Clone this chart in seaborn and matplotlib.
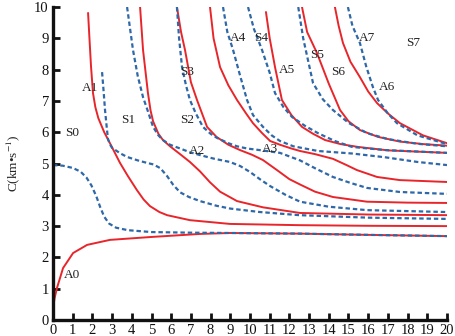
import matplotlib
matplotlib.use("Agg")
import matplotlib.pyplot as plt
import seaborn as sns

# Lamb wave dispersion curves: phase velocity C (km/s) vs fd
# antisymmetric modes (red, solid)
A0_x = [0.0, 0.08, 0.2, 0.51, 1.02, 1.73, 2.89, 4.92, 7.46, 8.98, 12.5, 16.0, 20.0]
A0_c = [0.35, 0.7, 1.02, 1.66, 2.14, 2.40, 2.56, 2.65, 2.75, 2.78, 2.76, 2.72, 2.68]
A1_x = [1.78, 1.85, 1.93, 2.03, 2.15, 2.3, 2.6, 2.89, 3.4, 3.8, 4.26, 4.6, 4.92, 5.4, 5.79, 6.95, 8.98, 12.5, 16.0, 20.0]
A1_c = [9.81, 9.0, 8.1, 7.25, 6.8, 6.45, 6.0, 5.65, 5.02, 4.6, 4.15, 3.85, 3.64, 3.45, 3.35, 3.19, 3.07, 3.03, 3.01, 3.0]
A2_x = [4.42, 4.57, 4.82, 4.95, 5.08, 5.35, 5.58, 5.94, 6.45, 6.95, 7.46, 7.97, 8.48, 9.34, 10.66, 12.54, 16.0, 20.0]
A2_c = [10.0, 8.63, 7.25, 6.7, 6.35, 5.95, 5.75, 5.55, 5.3, 5.05, 4.75, 4.4, 4.1, 3.8, 3.6, 3.42, 3.37, 3.35]
A3_x = [6.29, 6.5, 6.7, 7.0, 7.31, 7.82, 8.3, 8.9, 9.49, 10.1, 10.66, 11.37, 12.0, 12.54, 13.3, 14.21, 15.94, 18.0, 20.0]
A3_c = [10.0, 9.2, 8.63, 7.6, 7.03, 6.17, 5.85, 5.6, 5.43, 5.28, 5.11, 4.79, 4.5, 4.33, 4.1, 3.93, 3.78, 3.75, 3.74]
A4_x = [7.97, 8.15, 8.48, 8.9, 9.34, 9.8, 10.15, 10.6, 11.02, 11.52, 12.1, 12.54, 13.3, 14.21, 14.9, 15.43, 16.45, 17.61, 20.0]
A4_c = [10.0, 9.0, 8.08, 7.5, 7.03, 6.6, 6.29, 5.98, 5.72, 5.6, 5.48, 5.4, 5.3, 5.15, 4.95, 4.79, 4.57, 4.47, 4.41]
A5_x = [10.81, 11.0, 11.27, 11.62, 12.1, 12.64, 13.2, 13.81, 14.6, 15.48, 17.0, 20.0]
A5_c = [9.84, 9.0, 8.08, 7.03, 6.55, 6.17, 5.95, 5.75, 5.62, 5.53, 5.42, 5.34]
A6_x = [12.64, 12.9, 13.4, 14.0, 14.57, 15.0, 15.58, 16.5, 17.61, 18.8, 20.0]
A6_c = [10.0, 9.2, 8.53, 7.55, 6.71, 6.35, 6.07, 5.85, 5.7, 5.62, 5.57]
A7_x = [14.31, 14.5, 14.72, 15.1, 15.58, 16.0, 16.45, 17.0, 17.61, 18.78, 20.0]
A7_c = [10.0, 9.4, 8.85, 8.25, 7.76, 7.3, 6.93, 6.6, 6.29, 5.9, 5.65]

# symmetric modes (blue, dashed)
S0_x = [0.0, 0.5, 1.0, 1.4, 1.7, 1.95, 2.2, 2.4, 2.6, 2.85, 3.2, 3.8, 5.0, 7.0, 9.0, 12.5, 16.0, 20.0]
S0_c = [4.95, 4.93, 4.86, 4.74, 4.55, 4.3, 3.95, 3.6, 3.3, 3.08, 2.95, 2.87, 2.81, 2.79, 2.78, 2.76, 2.72, 2.68]
S1_x = [2.49, 2.57, 2.64, 2.72, 2.79, 2.9, 3.0, 3.4, 3.76, 4.3, 4.77, 5.1, 5.45, 5.79, 6.1, 6.45, 6.9, 7.46, 8.3, 9.0, 10.5, 12.5, 16.0, 20.0]
S1_c = [7.92, 7.3, 6.71, 6.2, 5.78, 5.6, 5.5, 5.33, 5.21, 5.1, 5.02, 4.97, 4.85, 4.6, 4.32, 4.08, 3.93, 3.8, 3.65, 3.56, 3.45, 3.35, 3.27, 3.23]
S2_x = [3.76, 4.06, 4.3, 4.57, 4.8, 5.08, 5.35, 5.58, 5.94, 6.45, 6.95, 7.46, 8.2, 8.98, 9.5, 10.0, 10.5, 11.02, 11.8, 12.54, 14.0, 15.94, 20.0]
S2_c = [10.0, 8.63, 7.8, 7.12, 6.7, 6.17, 5.9, 5.75, 5.6, 5.48, 5.36, 5.27, 5.15, 5.05, 4.92, 4.73, 4.5, 4.28, 4.0, 3.78, 3.62, 3.51, 3.45]
S3_x = [6.29, 6.4, 6.55, 6.75, 6.95, 7.25, 7.61, 8.0, 8.32, 8.9, 9.34, 9.85, 10.6, 11.52, 12.54, 13.3, 14.21, 15.1, 15.94, 17.61, 20.0]
S3_c = [10.0, 9.0, 8.08, 7.5, 7.03, 6.6, 6.17, 5.95, 5.82, 5.65, 5.55, 5.48, 5.42, 5.34, 5.1, 4.85, 4.57, 4.38, 4.22, 4.09, 4.03]
S4_x = [8.63, 8.85, 9.14, 9.5, 9.85, 10.15, 10.66, 11.1, 11.52, 12.2, 13.45, 15.18, 16.85, 18.5, 20.0]
S4_c = [10.0, 9.2, 8.63, 7.8, 7.03, 6.55, 6.17, 5.9, 5.72, 5.55, 5.4, 5.32, 5.2, 5.05, 4.95]
S5_x = [9.9, 10.2, 10.61, 11.0, 11.27, 11.7, 12.13, 12.8, 13.45, 14.3, 15.18, 16.85, 20.0]
S5_c = [10.0, 9.3, 8.63, 7.9, 7.25, 6.8, 6.49, 6.2, 5.97, 5.72, 5.53, 5.43, 5.34]
S6_x = [12.45, 12.7, 13.2, 13.7, 14.21, 15.0, 15.94, 17.0, 18.5, 20.0]
S6_c = [10.0, 9.0, 7.57, 7.05, 6.71, 6.3, 5.97, 5.78, 5.63, 5.55]
S7_x = [14.97, 15.2, 15.58, 15.9, 16.24, 16.5, 17.0, 17.46, 18.5, 20.0]
S7_c = [10.0, 9.4, 8.85, 8.1, 7.44, 7.03, 6.6, 6.29, 5.9, 5.62]

A_modes = [(A0_x, A0_c), (A1_x, A1_c), (A2_x, A2_c), (A3_x, A3_c),
           (A4_x, A4_c), (A5_x, A5_c), (A6_x, A6_c), (A7_x, A7_c)]
S_modes = [(S0_x, S0_c), (S1_x, S1_c), (S2_x, S2_c), (S3_x, S3_c),
           (S4_x, S4_c), (S5_x, S5_c), (S6_x, S6_c), (S7_x, S7_c)]

# mode labels as they appear on the chart
labels = ['S0', 'A1', 'S1', 'S2', 'S3', 'A2', 'A3', 'A4', 'S4', 'A5', 'S5', 'S6', 'A6', 'A7', 'S7', 'A0']
label_x = [0.96, 1.88, 3.81, 6.80, 6.80, 7.31, 11.02, 9.39, 10.56, 11.88, 13.4, 14.47, 16.95, 15.94, 18.27, 0.96]
label_y = [5.97, 7.41, 6.39, 6.39, 7.92, 5.40, 5.46, 9.01, 9.01, 7.99, 8.47, 7.92, 7.44, 9.01, 8.85, 1.44]

sns.set_style("ticks")
plt.rcParams['font.family'] = ['Liberation Serif', 'DejaVu Serif']
plt.rcParams['mathtext.fontset'] = 'stix'

fig = plt.figure(figsize=(4.55, 3.36), dpi=100)
ax = fig.add_axes([0.1165, 0.0476, 0.8659, 0.9315])

red = '#e8252a'
blue = '#2f68a8'
for xs, cs in A_modes:
    sns.lineplot(x=xs, y=cs, ax=ax, sort=False, estimator=None, color=red, lw=1.4)
for xs, cs in S_modes:
    sns.lineplot(x=xs, y=cs, ax=ax, sort=False, estimator=None, color=blue, lw=1.6,
                 dashes=False, linestyle=(0, (2.0, 1.3)))

for t, x, y in zip(labels, label_x, label_y):
    ax.text(x, y, t, ha='center', va='center', fontsize=9.5, color='#222222')

ax.set_xlim(0, 20)
ax.set_ylim(0, 10)
ax.set_xticks(range(0, 21))
ax.set_yticks(range(0, 11))
ax.tick_params(direction='in', length=5, width=2, labelsize=10.5, pad=3, colors='#111111')
sns.despine(ax=ax)
for s in ['left', 'bottom']:
    ax.spines[s].set_linewidth(2.4)
    ax.spines[s].set_color('#111111')
ax.set_xlabel('')
ax.set_ylabel(r'C(km•s$^{-1}$)', fontsize=9.5, labelpad=9)

fig.savefig('out.png', dpi=100)
